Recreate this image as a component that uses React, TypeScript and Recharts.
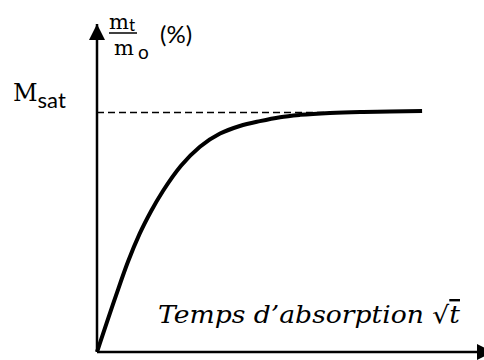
import React from "react";
import { LineChart, Line, XAxis, YAxis, ReferenceLine, ReferenceDot } from "recharts";

// absorption curve (x: sqrt(t) in % of axis, y: mt/mo in % of axis)
const tVals = [0, 4.9, 8.0, 11.0, 14.0, 17.0, 21.7, 26.6, 31.8, 36.9, 42.1, 47.3, 52.5, 60.2, 68.0, 75.7, 84.0];
const mVals = [0, 17.2, 27.5, 36.0, 43.0, 49.0, 56.8, 62.6, 66.6, 68.9, 70.4, 71.6, 72.3, 72.9, 73.2, 73.3, 73.5];
const MSAT = 73.0;
const DASH_END = 65;
const X_MAX = 100;
const Y_MAX = 100;

const data = tVals.map((t, i) => ({ t, m: mVals[i] }));

const serif = "'DejaVu Serif', serif";
const sans = "Lato, 'Open Sans', sans-serif";

const YArrow = (p: any) => {
  const { cx, cy } = p;
  return (
    <g>
      <polygon points={`${cx},${cy} ${cx - 8},${cy + 16} ${cx + 8},${cy + 16}`} fill="#000" />
      <text x={cx + 12} y={cy + 5} fontFamily={serif} fontSize={21} fill="#000">
        m<tspan fontFamily={sans} fontSize={17} dy={2}>t</tspan>
      </text>
      <line x1={cx + 12} x2={cx + 40} y1={cy + 9} y2={cy + 9} stroke="#000" strokeWidth={1.5} />
      <text x={cx + 17} y={cy + 31} fontFamily={serif} fontSize={21} fill="#000">
        m<tspan fontFamily={sans} fontSize={19} dx={4} dy={4}>o</tspan>
      </text>
      <text x={cx + 63} y={cy + 19} fontFamily={sans} fontSize={24} fill="#000">(%)</text>
    </g>
  );
};

const XArrow = (p: any) => {
  const { cx, cy } = p;
  return (
    <g>
      <polygon points={`${cx + 9},${cy} ${cx - 7},${cy - 8} ${cx - 7},${cy + 8}`} fill="#000" />
      <text x={cx - 326} y={cy - 29} fontFamily={serif} fontStyle="italic" fontSize={24} fill="#000" textLength={302} lengthAdjust="spacingAndGlyphs">
        Temps d’absorption √<tspan textDecoration="overline">t</tspan>
      </text>
    </g>
  );
};

const MsatMark = (p: any) => {
  const { cx, cy } = p;
  return (
    <text x={cx - 84} y={cy - 12} fontFamily={serif} fontSize={24} fill="#000">
      M<tspan fontFamily={sans} fontSize={22} dy={7}>sat</tspan>
    </text>
  );
};

export default function App() {
  return (
    <div style={{ position: "absolute", left: 0, top: 0, width: 484, height: 360, background: "#fff" }}>
      <LineChart width={484} height={360} data={data} margin={{ top: 24, right: 0, bottom: 8, left: 97 }}>
        <XAxis dataKey="t" type="number" domain={[0, X_MAX]} hide />
        <YAxis type="number" domain={[0, Y_MAX]} hide />
        <ReferenceLine y={0} stroke="#000" strokeWidth={2.5} />
        <ReferenceLine x={0} stroke="#000" strokeWidth={2.5} />
        <ReferenceLine
          segment={[{ x: 0, y: MSAT }, { x: DASH_END, y: MSAT }]}
          stroke="#000"
          strokeWidth={1.5}
          strokeDasharray="7 4"
        />
        <Line dataKey="m" type="monotone" stroke="#000" strokeWidth={4} dot={false} isAnimationActive={false} />
        <ReferenceDot x={0} y={Y_MAX} r={0} shape={YArrow} ifOverflow="visible" />
        <ReferenceDot x={X_MAX} y={0} r={0} shape={XArrow} ifOverflow="visible" />
        <ReferenceDot x={0} y={MSAT} r={0} shape={MsatMark} ifOverflow="visible" />
      </LineChart>
    </div>
  );
}
